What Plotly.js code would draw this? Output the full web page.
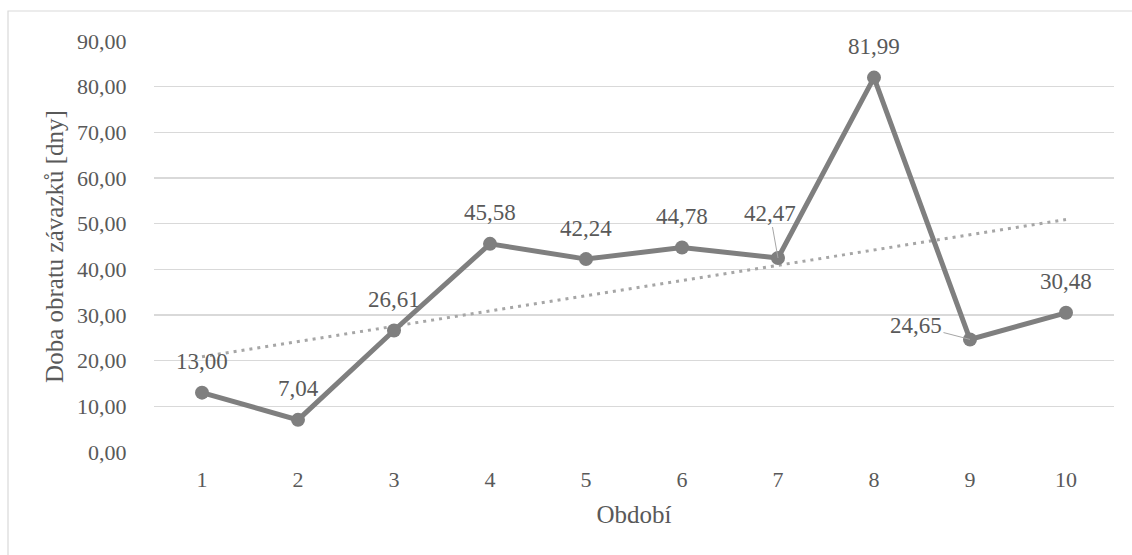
<!DOCTYPE html>
<html>
<head>
<meta charset="utf-8">
<script src="https://cdn.plot.ly/plotly-3.0.1.min.js"></script>
<style>
  html, body { margin: 0; padding: 0; background: #ffffff; }
  #chart { width: 1132px; height: 555px; }
</style>
</head>
<body>
<div id="chart"></div>
<script>
// Periods on the category axis
const periods = [1, 2, 3, 4, 5, 6, 7, 8, 9, 10];
const periodLabels = ['1', '2', '3', '4', '5', '6', '7', '8', '9', '10'];
// Payables turnover period in days
const turnoverDays = [13.00, 7.04, 26.61, 45.58, 42.24, 44.78, 42.47, 81.99, 24.65, 30.48];
// Y axis ticks
const yTicks = [0, 10, 20, 30, 40, 50, 60, 70, 80, 90];

const FONT = '"Liberation Serif", "Times New Roman", serif';
const TEXT = '#595959';
const LINE = '#7f7f7f';
const GRID = '#d9d9d9';

// Least-squares linear trend over the series
function linearTrend(xs, ys) {
  const n = xs.length;
  const mx = xs.reduce((a, b) => a + b, 0) / n;
  const my = ys.reduce((a, b) => a + b, 0) / n;
  let sxy = 0, sxx = 0;
  for (let i = 0; i < n; i++) {
    sxy += (xs[i] - mx) * (ys[i] - my);
    sxx += (xs[i] - mx) * (xs[i] - mx);
  }
  const slope = sxy / sxx;
  return x => my + slope * (x - mx);
}
const trend = linearTrend(periods, turnoverDays);
const trendX = [periods[0], periods[periods.length - 1]];
const trendY = trendX.map(trend);

const fmt = v => v.toFixed(2).replace('.', ',');

const traces = [
  {
    x: trendX, y: trendY, type: 'scatter', mode: 'lines',
    line: { color: '#a6a6a6', width: 3, dash: '3px,5px' },
    hoverinfo: 'skip', showlegend: false
  },
  {
    x: periods, y: turnoverDays, type: 'scatter', mode: 'lines+markers',
    line: { color: LINE, width: 5 },
    marker: { color: LINE, size: 14 },
    showlegend: false
  }
];

// Value labels: most sit above their point, two use leader lines
const labelOffsets = {
  7: { ax: -8, ay: -45 },
  9: { ax: -54, ay: -14 }
};
const annotations = periods.map((p, i) => {
  const off = labelOffsets[p];
  const base = {
    x: p, y: turnoverDays[i], xref: 'x', yref: 'y',
    text: fmt(turnoverDays[i]),
    font: { family: FONT, size: 23, color: TEXT }
  };
  if (off) {
    return Object.assign(base, {
      showarrow: true, arrowhead: 0, arrowwidth: 1, arrowcolor: '#a6a6a6',
      ax: off.ax, ay: off.ay, standoff: 0
    });
  }
  return Object.assign(base, { showarrow: false, yshift: 31 });
});

const W = 1132, H = 555;
const M = { l: 154, r: 18, t: 41, b: 103 };
const pw = W - M.l - M.r, ph = H - M.t - M.b;
// Chart-area frame; its left and top edges fall inside the page
const frame = {
  type: 'rect', xref: 'paper', yref: 'paper',
  x0: (8 - M.l) / pw, x1: (W + 8 - M.l) / pw,
  y0: 1 - (H + 8 - M.t) / ph,
  y1: 1 + (M.t - 11) / ph,
  line: { color: GRID, width: 1.2 }, fillcolor: 'rgba(0,0,0,0)', layer: 'below'
};

const layout = {
  width: W, height: H,
  margin: M,
  paper_bgcolor: '#ffffff', plot_bgcolor: '#ffffff',
  separators: ', ',
  font: { family: FONT, color: TEXT, size: 22 },
  xaxis: {
    range: [0.5, 10.5],
    tickmode: 'array', tickvals: periods, ticktext: periodLabels,
    showgrid: false, zeroline: false, showline: false,
    ticks: 'outside', ticklen: 8, tickcolor: 'rgba(0,0,0,0)',
    tickfont: { family: FONT, size: 22, color: TEXT },
    title: { text: 'Období', font: { family: FONT, size: 25, color: TEXT }, standoff: 14 },
    fixedrange: true
  },
  yaxis: {
    range: [0, 90],
    tickmode: 'array', tickvals: yTicks,
    tickformat: '.2f',
    showgrid: true, gridcolor: GRID, gridwidth: 1.5,
    zeroline: false, showline: false,
    ticks: 'outside', ticklen: 22, tickcolor: 'rgba(0,0,0,0)',
    tickfont: { family: FONT, size: 22, color: TEXT },
    title: { text: 'Doba obratu závazků [dny]', font: { family: FONT, size: 25, color: TEXT }, standoff: 6 },
    fixedrange: true
  },
  shapes: [frame],
  annotations: annotations,
  hovermode: false
};

Plotly.newPlot('chart', traces, layout, { displayModeBar: false, staticPlot: true });
</script>
</body>
</html>
